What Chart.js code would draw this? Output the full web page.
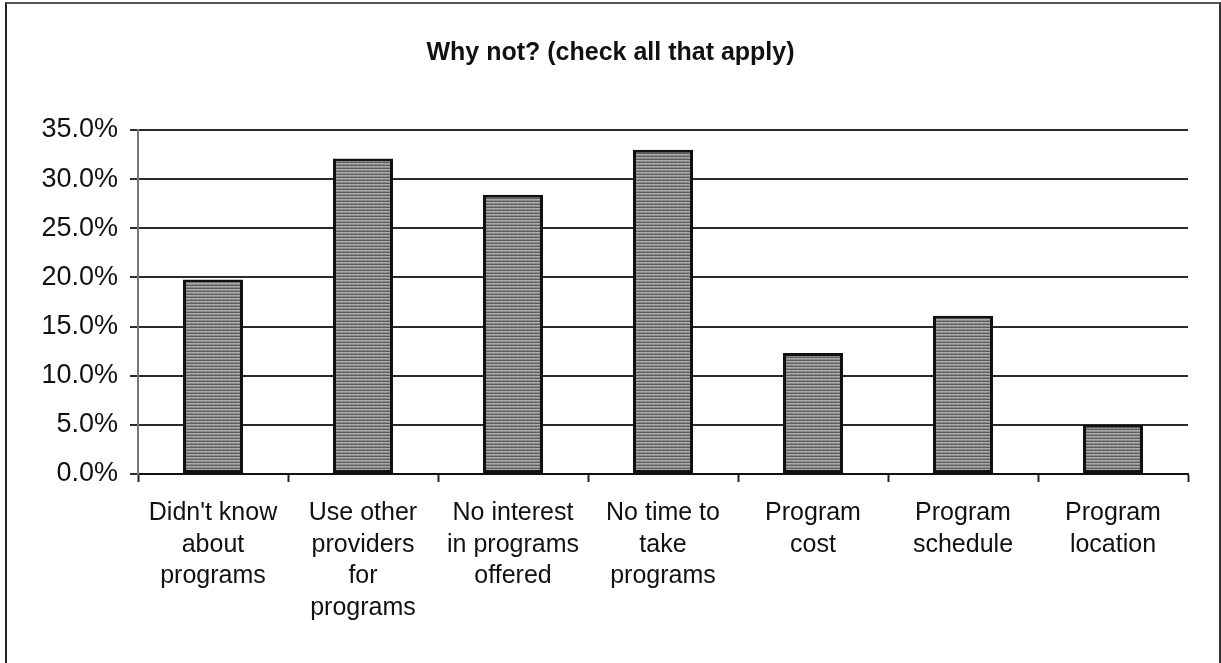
<!DOCTYPE html>
<html>
<head>
<meta charset="utf-8">
<script src="https://cdn.jsdelivr.net/npm/chart.js@4"></script>
<style>
  html, body { margin: 0; padding: 0; background: #fff; }
  #wrap { position: relative; width: 1221px; height: 663px; overflow: hidden; }
  #frame {
    position: absolute; left: 5px; top: 2px; width: 1212px; height: 700px;
    border-left: 2px solid #222; border-top: 2px solid #555; border-right: 2px solid #333;
    pointer-events: none;
  }
  canvas { position: absolute; left: 0; top: 0; }
</style>
</head>
<body>
<div id="wrap">
  <canvas id="grafico" width="1221" height="663"></canvas>
  <div id="frame"></div>
</div>
<script>
// Dados
const titulo = 'Why not? (check all that apply)';
const categorias = [
  ["Didn't know", 'about', 'programs'],
  ['Use other', 'providers', 'for', 'programs'],
  ['No interest', 'in programs', 'offered'],
  ['No time to', 'take', 'programs'],
  ['Program', 'cost'],
  ['Program', 'schedule'],
  ['Program', 'location']
];
const valores = [19.8, 32.1, 28.4, 33.0, 12.3, 16.1, 5.0];
const eixoMin = 0;
const eixoMax = 35;
const eixoPasso = 5;

// Textura cinza das barras (imitando o padrão escaneado)
function criarTextura(ctx) {
  const c = document.createElement('canvas');
  c.width = 4; c.height = 3;
  const g = c.getContext('2d');
  g.fillStyle = '#5e5e5e'; g.fillRect(0, 0, 4, 1);
  g.fillStyle = '#ababab'; g.fillRect(0, 1, 4, 1);
  g.fillStyle = '#858585'; g.fillRect(0, 2, 4, 1);
  g.fillStyle = '#a0a0a0'; g.fillRect(1, 2, 1, 1);
  return ctx.createPattern(c, 'repeat');
}

const ctx = document.getElementById('grafico').getContext('2d');

new Chart(ctx, {
  type: 'bar',
  data: {
    labels: categorias,
    datasets: [{
      data: valores,
      backgroundColor: criarTextura(ctx),
      borderColor: '#111',
      borderWidth: 3,
      borderSkipped: false,
      barPercentage: 0.4,
      categoryPercentage: 1.0
    }]
  },
  options: {
    responsive: false,
    animation: false,
    devicePixelRatio: 1,
    layout: { padding: 0 },
    plugins: {
      legend: { display: false },
      tooltip: { enabled: false },
      title: {
        display: true,
        text: titulo,
        color: '#111',
        font: { family: 'Liberation Sans, Arial, sans-serif', size: 25, weight: 'bold', lineHeight: 1.2 },
        padding: { top: 38, bottom: 62 }
      }
    },
    scales: {
      x: {
        offset: true,
        grid: { display: true, drawOnChartArea: false, drawTicks: true, tickLength: 8, tickColor: '#222', tickWidth: 2 },
        border: { display: true, color: '#111', width: 2 },
        ticks: {
          color: '#111',
          padding: 15,
          maxRotation: 0,
          autoSkip: false,
          font: { family: 'Liberation Sans, Arial, sans-serif', size: 25, lineHeight: 1.27 }
        },
        afterFit: (s) => { s.height = 189; }
      },
      y: {
        min: eixoMin,
        max: eixoMax,
        grid: { color: '#2a2a2a', lineWidth: 2, tickLength: 8, tickColor: '#2a2a2a' },
        border: { display: true, color: '#777', width: 2 },
        ticks: {
          stepSize: eixoPasso,
          color: '#111',
          padding: 12,
          font: { family: 'Liberation Sans, Arial, sans-serif', size: 27 },
          callback: (v) => v.toFixed(1) + '%'
        },
        afterFit: (s) => { s.width = 138; }
      },
      // margem direita vazia (mantém o título centrado na página)
      margemDireita: {
        type: 'linear',
        position: 'right',
        display: true,
        grid: { drawOnChartArea: false, drawTicks: false },
        border: { display: false },
        ticks: { display: false },
        afterFit: (s) => { s.width = 33; }
      }
    }
  }
});
</script>
</body>
</html>
